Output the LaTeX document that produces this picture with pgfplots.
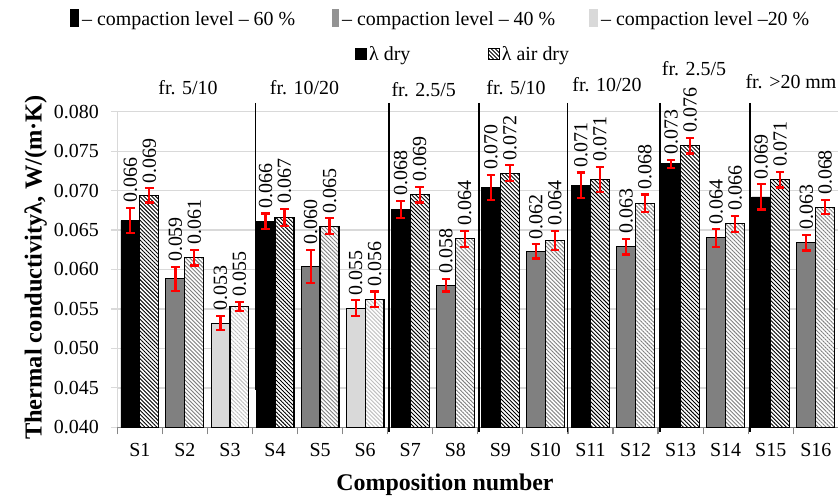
\documentclass[border=0pt]{standalone}
\usepackage{fontspec}
\setmainfont{Liberation Serif}
\usepackage{pgfplots}
\pgfplotsset{compat=1.18}
\usepackage{pgfplotstable}
\usetikzlibrary{patterns.meta}
\definecolor{midgray}{HTML}{808080}
\definecolor{lightg}{HTML}{D9D9D9}
\definecolor{hatchmid}{HTML}{7F7F7F}
\definecolor{hatchlight}{HTML}{BFBFBF}
\definecolor{gridc}{HTML}{D9D9D9}
\definecolor{axc}{HTML}{868686}
\newcommand\fs{\rmfamily\fontsize{20}{24}\selectfont}
\tikzset{hatch/.style={pattern={Lines[angle=-45,distance=2.8bp,line width=0.9bp]}}}
\pgfplotsset{
  errs/.style={error bars/.cd, y dir=both, y explicit,
    error bar style={red, line width=2.2bp},
    error mark options={rotate=90, red, mark size=4.3bp, line width=2.2bp}},
  labs/.style={draw=none, mark=none, nodes near coords, point meta=explicit symbolic,
    nodes near coords style={rotate=90, anchor=west, font=\fs, inner xsep=5bp, inner ysep=0pt, text=black}},
}
% 60 % compaction
\pgfplotstableread{
x y err lab
1 0.0662 0.0016 0.066
4 0.0661 0.0010 0.066
7 0.0676 0.0011 0.068
9 0.0704 0.0016 0.070
11 0.0707 0.0016 0.071
13 0.0734 0.0005 0.073
15 0.0692 0.0016 0.069
}\dryA
\pgfplotstableread{
x y err lab
1 0.0694 0.0009 0.069
4 0.0666 0.0011 0.067
7 0.0695 0.0010 0.069
9 0.0722 0.0010 0.072
11 0.0714 0.0016 0.071
13 0.0757 0.0010 0.076
15 0.0714 0.0010 0.071
}\airA
% 40 % compaction
\pgfplotstableread{
x y err lab
2 0.0588 0.0015 0.059
5 0.0604 0.0021 0.060
8 0.0580 0.0008 0.058
10 0.0623 0.0009 0.062
12 0.0629 0.0010 0.063
14 0.0640 0.0011 0.064
16 0.0634 0.0010 0.063
}\dryB
\pgfplotstableread{
x y err lab
2 0.0615 0.0010 0.061
5 0.0655 0.0010 0.065
8 0.0639 0.0010 0.064
10 0.0637 0.0012 0.064
12 0.0684 0.0011 0.068
14 0.0658 0.0010 0.066
16 0.0679 0.0009 0.068
}\airB
% 20 % compaction
\pgfplotstableread{
x y err lab
3 0.0532 0.0009 0.053
6 0.0551 0.0010 0.055
}\dryC
\pgfplotstableread{
x y err lab
3 0.0553 0.0006 0.055
6 0.0562 0.0010 0.056
}\airC
\begin{document}
\begin{tikzpicture}
\useasboundingbox (-117.3bp,-68.7bp) rectangle (720.7bp,427.3bp);
\begin{axis}[
  scale only axis, width=721bp, height=315.6bp,
  xmin=0.5, xmax=16.5, ymin=0.040, ymax=0.080,
  enlargelimits=false,
  axis x line*=bottom, axis y line*=left,
  x axis line style={draw=axc, line width=1.3bp},
  y axis line style={draw=gridc, line width=1.3bp},
  xtick={1,...,16},
  xticklabels={S1,S2,S3,S4,S5,S6,S7,S8,S9,S10,S11,S12,S13,S14,S15,S16},
  minor xtick={0.5,1.5,...,16.5},
  ytick={0.040,0.045,0.050,0.055,0.060,0.065,0.070,0.075,0.080},
  scaled y ticks=false,
  yticklabel style={/pgf/number format/fixed, /pgf/number format/fixed zerofill,
    /pgf/number format/precision=3, /pgf/number format/assume math mode=true},
  yticklabel style={xshift=-9bp},
  xticklabel style={yshift=-6bp},
  tick label style={font=\fs},
  tick align=outside,
  major x tick style={draw=none},
  minor x tick style={draw=axc, line width=1.2bp},
  minor tick length=7bp,
  major y tick style={draw=gridc, line width=1.2bp},
  major tick length=6bp,
  ymajorgrids, grid style={draw=gridc, line width=1.3bp},
]
% dry bars
\addplot[ybar, bar width=0.42, bar shift=0pt, fill=black, draw=black, line width=0.8bp, errs]
  table[x expr=\thisrow{x}-0.21, y=y, y error=err]{\dryA};
\addplot[ybar, bar width=0.42, bar shift=0pt, fill=midgray, draw=black, line width=1bp, errs]
  table[x expr=\thisrow{x}-0.21, y=y, y error=err]{\dryB};
\addplot[ybar, bar width=0.42, bar shift=0pt, fill=lightg, draw=black, line width=1bp, errs]
  table[x expr=\thisrow{x}-0.21, y=y, y error=err]{\dryC};
% air dry bars
\addplot[ybar, bar width=0.42, bar shift=0pt, fill=white, postaction={hatch, pattern color=black}, draw=black, line width=1.2bp, errs]
  table[x expr=\thisrow{x}+0.21, y=y, y error=err]{\airA};
\addplot[ybar, bar width=0.42, bar shift=0pt, fill=white, postaction={hatch, pattern color=hatchmid}, draw=black, line width=1.2bp, errs]
  table[x expr=\thisrow{x}+0.21, y=y, y error=err]{\airB};
\addplot[ybar, bar width=0.42, bar shift=0pt, fill=white, postaction={hatch, pattern color=hatchlight}, draw=black, line width=1.2bp, errs]
  table[x expr=\thisrow{x}+0.21, y=y, y error=err]{\airC};
% value labels
\addplot[labs] table[x expr=\thisrow{x}-0.21, y expr=\thisrow{y}+\thisrow{err}, meta=lab]{\dryA};
\addplot[labs] table[x expr=\thisrow{x}-0.21, y expr=\thisrow{y}+\thisrow{err}, meta=lab]{\dryB};
\addplot[labs] table[x expr=\thisrow{x}-0.21, y expr=\thisrow{y}+\thisrow{err}, meta=lab]{\dryC};
\addplot[labs] table[x expr=\thisrow{x}+0.21, y expr=\thisrow{y}+\thisrow{err}, meta=lab]{\airA};
\addplot[labs] table[x expr=\thisrow{x}+0.21, y expr=\thisrow{y}+\thisrow{err}, meta=lab]{\airB};
\addplot[labs] table[x expr=\thisrow{x}+0.21, y expr=\thisrow{y}+\thisrow{err}, meta=lab]{\airC};
\end{axis}
% group separators
\draw[black, line width=1.5bp] (138.4bp,324.3bp) -- (138.4bp,37.3bp);
\foreach \xx in {271.7,361.7,450.4,542.7,632.7}
  \draw[black, line width=1.3bp] (\xx bp,324.3bp) -- (\xx bp,-4.7bp);
% group labels
\begin{scope}[every node/.style={anchor=base, font=\fs, inner sep=0pt}]
\node at (70.7bp,332.8bp) {fr. 5/10};
\node at (187.2bp,332.8bp) {fr. 10/20};
\node at (306.4bp,330.6bp) {fr. 2.5/5};
\node at (398.7bp,332.8bp) {fr. 5/10};
\node at (489.7bp,335.3bp) {fr. 10/20};
\node at (576.7bp,351.8bp) {fr. 2.5/5};
\node at (673.7bp,338.3bp) {fr. >20 mm};
\end{scope}
% legend
\begin{scope}[every node/.style={anchor=base west, font=\fs, inner sep=0pt}]
\fill[black] (-47.3bp,400bp) rectangle (-38.6bp,418bp);
\node at (-35.3bp,401.3bp) {– compaction level – 60 \%};
\fill[midgray!85] (214.4bp,400bp) rectangle (221.7bp,418bp);
\node at (224.7bp,401.3bp) {– compaction level – 40 \%};
\fill[lightg] (471.7bp,400bp) rectangle (480.2bp,418bp);
\node at (483.7bp,401.3bp) {– compaction level –20 \%};
\fill[black] (237.7bp,367.3bp) rectangle (249.7bp,379.3bp);
\node at (251.7bp,366.3bp) {λ dry};
\draw[black, line width=0.8bp, fill=white, postaction={hatch, pattern color=black}] (371bp,367.7bp) rectangle (382bp,378.9bp);
\node at (384.4bp,366.3bp) {λ air dry};
\end{scope}
% axis titles
\node[rotate=90, anchor=base, inner sep=0pt, font=\rmfamily\fontsize{24.5}{28}\selectfont\bfseries] at (-75.6bp,159.8bp) {Thermal conductivityλ, W/(m·K)};
\node[anchor=base, inner sep=0pt, font=\rmfamily\fontsize{24}{28}\selectfont\bfseries] at (327.7bp,-62.7bp) {Composition number};
\end{tikzpicture}
\end{document}
